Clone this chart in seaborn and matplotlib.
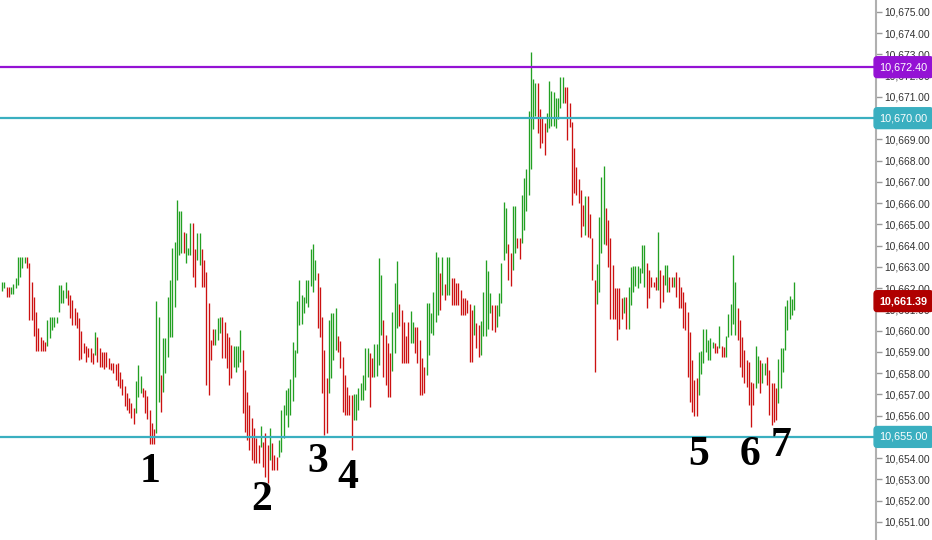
import numpy as np
import pandas as pd
import matplotlib
matplotlib.use("Agg")
import matplotlib.pyplot as plt
import matplotlib.transforms as mtransforms
import seaborn as sns

# bar highs / lows (one bar per column, left to right)
highs = [
    10662.31, 10662.31, 10662.07, 10662.07, 10662.07, 10662.20, 10662.49, 10663.48, 10663.48, 10663.48,
    10663.48, 10663.48, 10663.17, 10662.31, 10661.57, 10660.87, 10660.14, 10659.72, 10659.56, 10659.48,
    10660.50, 10660.66, 10660.66, 10660.66, 10660.66, 10662.15, 10662.15, 10661.92, 10662.31, 10661.90,
    10661.68, 10661.44, 10661.08, 10660.87, 10660.58, 10659.98, 10659.43, 10659.28, 10659.20, 10659.17,
    10658.93, 10659.94, 10659.72, 10659.17, 10659.01, 10659.01, 10659.01, 10658.70, 10658.49, 10658.49,
    10658.42, 10658.46, 10658.07, 10657.71, 10657.41, 10657.05, 10656.82, 10656.58, 10656.35, 10657.64,
    10658.38, 10657.87, 10657.32, 10657.21, 10656.93, 10656.27, 10655.64, 10655.36, 10661.41, 10660.66,
    10657.91, 10659.64, 10659.64, 10661.60, 10662.39, 10663.88, 10664.19, 10666.15, 10665.63, 10665.63,
    10664.66, 10664.58, 10663.88, 10665.08, 10665.08, 10663.83, 10664.61, 10664.61, 10663.83, 10663.33,
    10662.77, 10661.29, 10659.56, 10660.06, 10660.06, 10660.58, 10660.66, 10660.66, 10660.42, 10659.90,
    10659.72, 10659.33, 10659.29, 10659.29, 10659.29, 10660.03, 10659.09, 10658.15, 10657.13, 10656.50,
    10655.88, 10655.40, 10654.93, 10654.62, 10655.53, 10654.77, 10655.17, 10654.62, 10655.40, 10654.70,
    10654.15, 10654.07, 10654.85, 10656.27, 10656.50, 10657.21, 10657.29, 10657.71, 10659.48, 10659.09,
    10661.41, 10662.39, 10661.67, 10661.60, 10662.39, 10662.39, 10663.83, 10664.08, 10663.33, 10662.70,
    10662.07, 10660.66, 10659.09, 10657.76, 10660.50, 10660.85, 10660.85, 10661.08, 10659.75, 10659.53,
    10658.77, 10657.91, 10657.33, 10656.97, 10656.97, 10657.00, 10657.00, 10657.29, 10657.52, 10657.91,
    10659.20, 10659.20, 10658.93, 10658.70, 10659.36, 10659.36, 10663.40, 10662.62, 10660.50, 10659.79,
    10659.41, 10658.93, 10660.89, 10662.23, 10663.28, 10661.24, 10660.97, 10660.42, 10659.75, 10660.42,
    10660.94, 10660.42, 10660.19, 10660.19, 10659.56, 10658.70, 10658.30, 10661.29, 10661.29, 10660.82,
    10661.83, 10663.72, 10663.45, 10662.70, 10663.45, 10662.19, 10663.45, 10663.45, 10662.46, 10662.46,
    10662.23, 10662.23, 10661.91, 10661.52, 10661.52, 10661.44, 10661.25, 10660.97, 10661.21, 10660.38,
    10660.27, 10660.47, 10661.83, 10663.33, 10662.82, 10661.76, 10661.21, 10661.21, 10661.21, 10661.79,
    10663.20, 10666.04, 10665.79, 10664.06, 10663.67, 10665.88, 10665.88, 10664.37, 10664.37, 10666.38,
    10667.17, 10667.61, 10670.34, 10673.10, 10671.83, 10671.64, 10671.64, 10670.42, 10669.99, 10669.79,
    10670.26, 10671.76, 10671.29, 10671.25, 10670.93, 10670.93, 10671.92, 10671.92, 10671.45, 10671.45,
    10670.70, 10669.83, 10668.58, 10667.72, 10667.12, 10666.62, 10665.91, 10666.34, 10666.34, 10665.49,
    10664.35, 10662.39, 10663.14, 10665.36, 10667.24, 10667.75, 10665.76, 10665.21, 10664.35, 10663.09,
    10661.99, 10661.99, 10661.99, 10661.52, 10661.57, 10661.57, 10662.04, 10663.01, 10663.04, 10663.04,
    10663.04, 10662.93, 10664.03, 10664.03, 10663.17, 10662.85, 10662.54, 10662.30, 10662.54, 10664.66,
    10662.85, 10662.62, 10663.09, 10663.09, 10662.54, 10662.54, 10662.54, 10662.78, 10662.54, 10662.07,
    10661.83, 10661.36, 10660.89, 10659.95, 10658.62, 10657.68, 10657.76, 10659.01, 10659.04, 10660.06,
    10660.06, 10659.56, 10659.67, 10659.48, 10659.43, 10659.28, 10660.22, 10659.28, 10659.25, 10659.75,
    10660.78, 10661.25, 10663.56, 10662.30, 10661.05, 10660.50, 10659.72, 10659.09, 10658.62, 10658.54,
    10657.60, 10657.52, 10659.28, 10658.81, 10658.62, 10658.49, 10658.49, 10658.77, 10658.15, 10657.52,
    10657.52, 10657.29, 10658.65, 10659.17, 10659.17, 10661.16, 10661.44, 10661.63, 10661.47, 10662.30,
]
lows = [
    10661.87, 10662.00, 10661.57, 10661.57, 10661.71, 10661.71, 10661.99, 10662.14, 10662.54, 10662.96,
    10663.17, 10662.93, 10660.50, 10660.50, 10659.76, 10659.02, 10659.02, 10659.02, 10659.02, 10659.02,
    10659.28, 10659.64, 10660.01, 10660.19, 10660.38, 10660.89, 10661.29, 10661.32, 10661.53, 10661.20,
    10660.58, 10660.27, 10660.27, 10660.14, 10658.62, 10658.65, 10658.93, 10658.54, 10658.78, 10658.54,
    10658.44, 10658.85, 10658.54, 10658.30, 10658.30, 10658.22, 10658.30, 10658.22, 10658.15, 10658.00,
    10657.68, 10657.41, 10657.29, 10656.98, 10656.45, 10656.27, 10656.14, 10655.87, 10655.63, 10656.14,
    10656.89, 10657.05, 10656.86, 10656.14, 10655.83, 10654.65, 10654.65, 10654.65, 10655.17, 10656.66,
    10656.16, 10657.13, 10658.00, 10658.77, 10659.72, 10659.72, 10661.13, 10662.39, 10663.56, 10663.64,
    10663.64, 10663.17, 10663.56, 10663.56, 10662.54, 10662.07, 10663.33, 10663.09, 10662.07, 10662.07,
    10657.44, 10656.97, 10658.62, 10659.33, 10659.33, 10659.56, 10659.88, 10658.70, 10658.70, 10658.23,
    10657.44, 10657.76, 10658.31, 10658.04, 10658.31, 10658.54, 10656.11, 10655.24, 10654.85, 10654.38,
    10653.91, 10653.76, 10653.76, 10653.76, 10654.54, 10653.60, 10653.12, 10652.82, 10653.91, 10653.44,
    10653.44, 10653.44, 10654.07, 10654.30, 10654.93, 10656.03, 10655.48, 10656.03, 10656.70, 10657.83,
    10658.93, 10660.27, 10660.31, 10660.82, 10661.29, 10661.13, 10662.10, 10661.83, 10662.39, 10660.11,
    10659.72, 10657.05, 10655.09, 10655.17, 10657.05, 10657.76, 10658.62, 10659.09, 10659.01, 10658.23,
    10656.19, 10656.03, 10656.03, 10656.03, 10654.38, 10655.80, 10655.80, 10656.27, 10656.74, 10656.74,
    10657.21, 10657.83, 10656.42, 10657.83, 10657.83, 10657.87, 10658.38, 10659.79, 10657.83, 10657.44,
    10656.89, 10656.89, 10658.12, 10658.96, 10660.11, 10660.22, 10658.46, 10658.46, 10658.46, 10658.46,
    10659.43, 10659.41, 10658.93, 10658.46, 10656.97, 10656.97, 10657.05, 10657.91, 10658.85, 10659.88,
    10659.79, 10660.42, 10660.74, 10660.97, 10661.68, 10661.44, 10661.68, 10661.68, 10661.21, 10661.21,
    10661.21, 10661.21, 10660.74, 10660.74, 10660.74, 10660.82, 10658.54, 10658.54, 10659.79, 10659.17,
    10658.77, 10658.85, 10659.75, 10659.75, 10660.07, 10660.82, 10660.03, 10659.95, 10660.19, 10660.69,
    10661.32, 10663.33, 10663.64, 10662.39, 10662.10, 10662.85, 10663.64, 10663.88, 10663.36, 10664.11,
    10664.74, 10665.64, 10666.38, 10667.59, 10669.48, 10670.10, 10669.29, 10668.58, 10668.82, 10668.27,
    10669.36, 10669.52, 10669.63, 10669.63, 10669.52, 10669.94, 10670.46, 10670.70, 10670.70, 10668.97,
    10669.60, 10665.91, 10666.46, 10666.38, 10666.00, 10664.42, 10664.92, 10664.50, 10664.42, 10664.35,
    10662.39, 10658.07, 10661.25, 10661.83, 10663.64, 10664.08, 10664.03, 10663.01, 10660.53, 10660.53,
    10660.53, 10659.56, 10660.07, 10660.53, 10660.82, 10660.07, 10660.07, 10661.21, 10661.83, 10662.10,
    10661.99, 10662.26, 10662.70, 10662.07, 10661.05, 10661.52, 10662.07, 10662.07, 10661.91, 10661.91,
    10661.05, 10661.36, 10662.15, 10661.83, 10661.83, 10662.07, 10662.07, 10661.57, 10661.05, 10661.05,
    10660.11, 10660.03, 10657.83, 10656.66, 10656.19, 10656.00, 10656.00, 10656.97, 10657.96, 10658.46,
    10659.01, 10658.62, 10658.62, 10659.17, 10658.96, 10658.96, 10659.17, 10658.75, 10658.75, 10658.75,
    10659.72, 10659.79, 10660.31, 10659.79, 10659.56, 10658.30, 10657.80, 10657.55, 10657.36, 10656.50,
    10655.48, 10656.50, 10657.29, 10657.52, 10657.08, 10657.52, 10657.91, 10657.44, 10656.03, 10655.56,
    10655.71, 10655.80, 10656.58, 10657.29, 10658.07, 10659.09, 10660.03, 10660.53, 10660.74, 10660.97,
]
# G = up bar (green), R = down bar (red)
direction = (
    "GGRRGGGGGG" "GRRRRRRRRR" "GGGGGGGGGR" "RRRRRRRRRR" "RGRRRRRRRR"
    "RRRRRRRRRG" "GGRRRRRRGG" "RGGGGGGGGG" "RGGGRRGGRR" "RRRRGGGRRR"
    "RRGGGGRRRR" "RRRRGRRRGR" "RRGGGGGGGG" "GGGGGGGGGR" "RRRRGGGGRR"
    "RRRRRGGGGG" "GGRRGGGGRR" "RRGGGRRRRR" "GGRRRRRGGG" "GGGRGRGGRR"
    "RRRRRRRRGR" "RGGGGGRRGG" "GGGRRGGRRG" "GGGGGGRRRR" "GGGGGGGGRR"
    "RRRRRRRGRR" "RRGGGGRRRR" "RRRRGRGGGG" "GGGGRRRRRG" "RRGGRRGRRR"
    "RRRRRRRGGG" "GGGGRRGRRG" "GGGGRRRRRR" "RRGGRGGRRR" "RRGGGGGGGG"
)

levels = [10672.40, 10670.00, 10655.00]
level_colors = ["#9412d4", "#3aafc0", "#3aafc0"]
last_price = 10661.39

swing_labels = ["1", "2", "3", "4", "5", "6", "7"]
swing_x = [65.2, 114.5, 139.2, 152.4, 307.0, 329.5, 343.0]
swing_y = [10653.35, 10652.03, 10653.82, 10653.07, 10654.15, 10654.15, 10654.57]

assert len(highs) == len(lows) == len(direction)

df = pd.DataFrame({"bar": np.arange(len(highs)), "high": highs, "low": lows,
                   "dir": list(direction)})

sns.set_theme(style="white")
plt.rcParams["font.family"] = ["Liberation Sans", "DejaVu Sans"]

fig = plt.figure(figsize=(9.32, 5.4), dpi=100)
ax = fig.add_axes([0, 0, 876 / 932, 1])

bar_colors = {"G": "#22a022", "R": "#cc1111"}
for d, sub in df.groupby("dir"):
    ax.vlines(sub["bar"], sub["low"], sub["high"], color=bar_colors[d], lw=0.95)

for lvl, c in zip(levels, level_colors):
    ax.axhline(lvl, color=c, lw=1.6, zorder=3)

ax.set_xlim(-0.9, 385)
ax.set_ylim(10650.15, 10675.56)

# labels hidden behind the level tags are left out
ticks = [t for t in range(10651, 10676) if t not in (10655, 10670)]
ax.yaxis.tick_right()
ax.set_yticks(ticks)
ax.yaxis.set_major_formatter(plt.FuncFormatter(lambda v, p: f"{v:,.2f}"))
ax.tick_params(axis="y", right=True, length=4, width=1, color="#999999",
               labelsize=7.4, labelcolor="#333333", pad=2)
ax.set_xticks([])
for side in ["top", "left", "bottom"]:
    ax.spines[side].set_visible(False)
ax.spines["right"].set_color("#b0b0b0")
ax.spines["right"].set_linewidth(1.5)

# price tags on the axis
trans = mtransforms.blended_transform_factory(ax.transAxes, ax.transData)
tags = [(levels[0], level_colors[0], "normal"),
        (levels[1], level_colors[1], "normal"),
        (levels[2], level_colors[2], "normal"),
        (last_price, "#b00000", "bold")]
for val, c, w in tags:
    ax.text(1.004, val, f"{val:,.2f}", transform=trans, ha="left", va="center",
            fontsize=7.8, color="white", fontweight=w, zorder=5, clip_on=False,
            bbox=dict(boxstyle="round,pad=0.5,rounding_size=0.3", fc=c, ec=c))

for lab, sx, sy in zip(swing_labels, swing_x, swing_y):
    ax.text(sx, sy, lab, ha="center", va="center", fontsize=30, fontweight="bold",
            family=["Liberation Serif", "DejaVu Serif"], color="black", zorder=6)

fig.savefig("out.png", dpi=100)
plt.close(fig)
